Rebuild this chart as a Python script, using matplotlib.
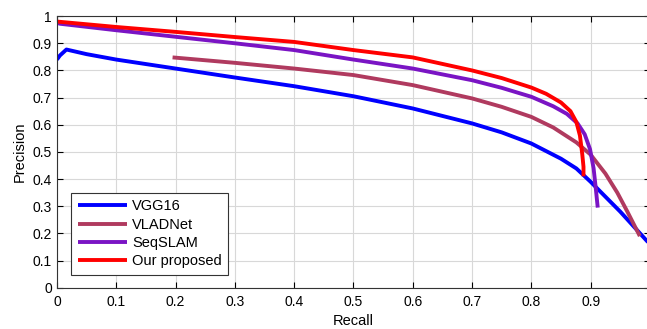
import matplotlib
matplotlib.use("Agg")
import matplotlib.pyplot as plt

plt.rcParams['font.family'] = ['Liberation Sans', 'DejaVu Sans']

# curves (recall, precision)
vgg_r = [0.0, 0.005, 0.016, 0.05, 0.1, 0.2, 0.3, 0.4, 0.5, 0.6, 0.7, 0.75, 0.8, 0.85, 0.876, 0.9, 0.95, 1.0]
vgg_p = [0.84, 0.855, 0.877, 0.86, 0.84, 0.807, 0.774, 0.742, 0.705, 0.66, 0.605, 0.572, 0.531, 0.475, 0.439, 0.39, 0.28, 0.16]

vlad_r = [0.195, 0.3, 0.4, 0.5, 0.6, 0.7, 0.75, 0.8, 0.837, 0.876, 0.9, 0.925, 0.945, 0.962, 0.983]
vlad_p = [0.848, 0.828, 0.807, 0.783, 0.746, 0.697, 0.666, 0.629, 0.59, 0.535, 0.49, 0.42, 0.35, 0.28, 0.19]

seq_r = [0.0, 0.005, 0.1, 0.2, 0.3, 0.4, 0.5, 0.6, 0.7, 0.75, 0.8, 0.837, 0.86, 0.878, 0.89, 0.899, 0.905, 0.909, 0.912]
seq_p = [0.975, 0.972, 0.948, 0.924, 0.9, 0.875, 0.84, 0.807, 0.764, 0.736, 0.703, 0.668, 0.64, 0.605, 0.565, 0.51, 0.44, 0.36, 0.295]

our_r = [0.0, 0.005, 0.1, 0.2, 0.3, 0.4, 0.5, 0.6, 0.7, 0.75, 0.8, 0.825, 0.85, 0.866, 0.876, 0.882, 0.886, 0.888, 0.888]
our_p = [0.98, 0.979, 0.96, 0.942, 0.923, 0.905, 0.875, 0.848, 0.80, 0.772, 0.737, 0.714, 0.682, 0.65, 0.61, 0.56, 0.49, 0.445, 0.41]

labels = ["VGG16", "VLADNet", "SeqSLAM", "Our proposed"]
colors = ["#0000ff", "#b03a5f", "#7a14c4", "#ff0000"]

fig = plt.figure(figsize=(6.47, 3.29), dpi=100)
ax = fig.add_axes([0.088, 0.1255, 0.9165, 0.8255])

for r, p, lab, c in zip([vgg_r, vlad_r, seq_r, our_r], [vgg_p, vlad_p, seq_p, our_p], labels, colors):
    ax.plot(r, p, color=c, lw=2.8, label=lab, solid_capstyle='butt', solid_joinstyle='round')

ax.set_xlim(0, 1)
ax.set_ylim(0, 1)
ax.set_xticks([i / 10 for i in range(11)])
ax.set_yticks([i / 10 for i in range(11)])
# the "1" at the right end is cropped off in the reference
ax.set_xticklabels(["0"] + [f"{i/10:g}" for i in range(1, 10)] + [""])
ax.set_yticklabels(["0"] + [f"{i/10:g}" for i in range(1, 10)] + ["1"])
ax.tick_params(direction='in', top=True, right=True, labelsize=10, length=4)
ax.tick_params(axis='x', pad=5)
ax.grid(True, color='#d8d8d8', lw=0.8)
ax.set_axisbelow(True)
for s in ax.spines.values():
    s.set_color('#333333')
ax.set_xlabel("Recall", fontsize=10.5, labelpad=4)
ax.set_ylabel("Precision", fontsize=10.5, labelpad=4)

leg = ax.legend(loc='lower left', bbox_to_anchor=(0.012, 0.02), fontsize=10.5, fancybox=False,
                edgecolor='#333333', framealpha=1, handlelength=3.4, borderpad=0.45,
                labelspacing=0.3, handletextpad=0.3)
leg.get_frame().set_linewidth(0.8)

fig.savefig("out.png", dpi=100)
